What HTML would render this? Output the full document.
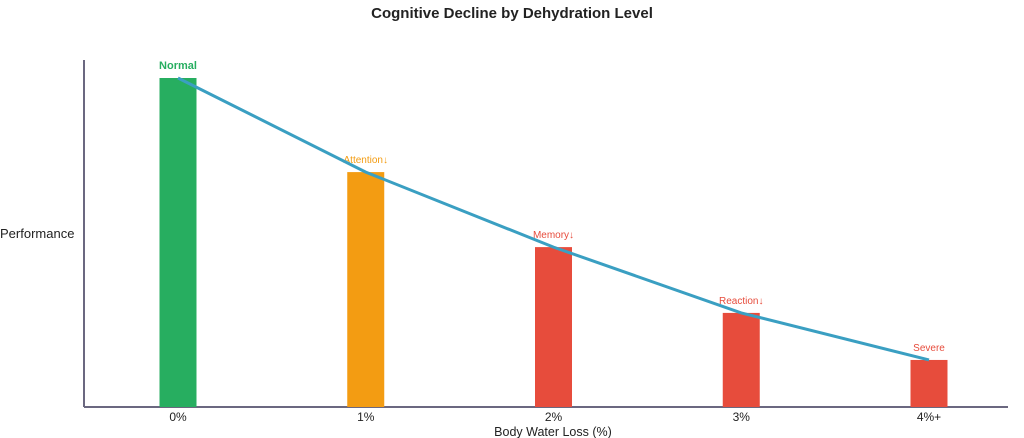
<!DOCTYPE html>
<html><head><meta charset="utf-8"><style>
body{margin:0;background:#fff;}
svg{display:block;font-family:"Liberation Sans",sans-serif;}
</style></head><body>
<svg id="chart" width="1024" height="438" viewBox="0 0 1024 438">
<text x="512" y="18" text-anchor="middle" font-size="15" font-weight="bold" fill="#222">Cognitive Decline by Dehydration Level</text>
<line x1="84" y1="60" x2="84" y2="407" stroke="#6b6880" stroke-width="2"/>
<line x1="84" y1="407" x2="1008" y2="407" stroke="#6b6880" stroke-width="2"/>
<text x="0" y="238" font-size="13" fill="#222">Performance</text>
<text x="553" y="436" text-anchor="middle" font-size="12.5" fill="#222">Body Water Loss (%)</text>
<g id="bars"></g>
</svg>
<script>
const categories=["0%","1%","2%","3%","4%+"];
const performance=[100,71.4,48.6,28.6,14.3];
const barLabels=["Normal","Attention↓","Memory↓","Reaction↓","Severe"];
const barColors=["#27ae60","#f39c12","#e74c3c","#e74c3c","#e74c3c"];
const svgNS="http://www.w3.org/2000/svg";
const g=document.getElementById('bars');
const x0=178,step=187.75,base=407,scale=3.29,bw=37;
function xs(i){return x0+i*step;}
function ys(v){return base-v*scale;}
let pts=[];
categories.forEach((c,i)=>{
  const cx=xs(i),y=ys(performance[i]);
  const r=document.createElementNS(svgNS,'rect');
  r.setAttribute('x',cx-bw/2);r.setAttribute('y',y);r.setAttribute('width',bw);r.setAttribute('height',base-y);r.setAttribute('fill',barColors[i]);
  
  
  g.appendChild(r);
  const t=document.createElementNS(svgNS,'text');
  t.setAttribute('x',cx);t.setAttribute('y',y-9);t.setAttribute('text-anchor','middle');t.setAttribute('font-size',i==0?'11':'10');
  if(i==0)t.setAttribute('font-weight','bold');
  t.setAttribute('fill',barColors[i]);t.textContent=barLabels[i];
  
  
  g.appendChild(t);
  const tk=document.createElementNS(svgNS,'text');
  tk.setAttribute('x',cx);tk.setAttribute('y',421);tk.setAttribute('text-anchor','middle');tk.setAttribute('font-size','12');tk.setAttribute('fill','#222');tk.textContent=c;
  
  
  g.appendChild(tk);
  pts.push(cx+','+y);
});
const pl=document.createElementNS(svgNS,'polyline');
pl.setAttribute('points',pts.join(' '));pl.setAttribute('fill','none');pl.setAttribute('stroke','#3a9fc2');pl.setAttribute('stroke-width','3');


g.appendChild(pl);
</script>
</body></html>
